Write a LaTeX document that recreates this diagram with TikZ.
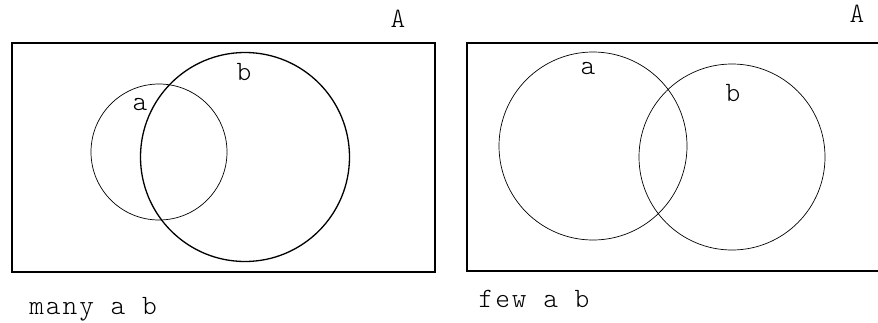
\documentclass[tikz,border=0pt]{standalone}
\usepackage{fontspec}
\newfontfamily\courlike{lmmonolt10-regular.otf}[LetterSpace=7]
\begin{document}
\begin{tikzpicture}[x=1pt,y=-1pt,
  lbl/.style={font=\courlike\fontsize{28}{30}\selectfont,inner sep=0pt,anchor=base},
  frame/.style={draw,line width=1.6pt},
  thin/.style={draw,line width=0.7pt},
  thick/.style={draw,line width=1.3pt}]
\useasboundingbox (0,0) rectangle (878,322);
% left panel
\node[frame,minimum width=423pt,minimum height=229pt,inner sep=0pt] (L) at (223.5,157.5) {};
\node[thin,circle,minimum size=136pt,inner sep=0pt] (La) at (159,152) {};
\node[thick,circle,minimum size=209pt,inner sep=0pt] (Lb) at (245,157) {};
\node[lbl] (LA) at (398,27) {A};
\node[lbl] (Lalbl) at (140,110) {a};
\node[lbl] (Lblbl) at (244,80) {b};
\node[lbl] (Lcap) at (93,314) {many a b};
% right panel
\draw[line width=1.3pt] (878,43) -- (467,43) -- (467,271) -- (878,271);
\node[thin,circle,minimum size=188pt,inner sep=0pt] (Ra) at (593,146) {};
\node[thin,circle,minimum size=186pt,inner sep=0pt] (Rb) at (732,157) {};
\node[lbl] (RA) at (857,22) {A};
\node[lbl] (Ralbl) at (588,74) {a};
\node[lbl] (Rblbl) at (733,101) {b};
\node[lbl] (Rcap) at (534,307) {few a b};
\end{tikzpicture}
\end{document}
